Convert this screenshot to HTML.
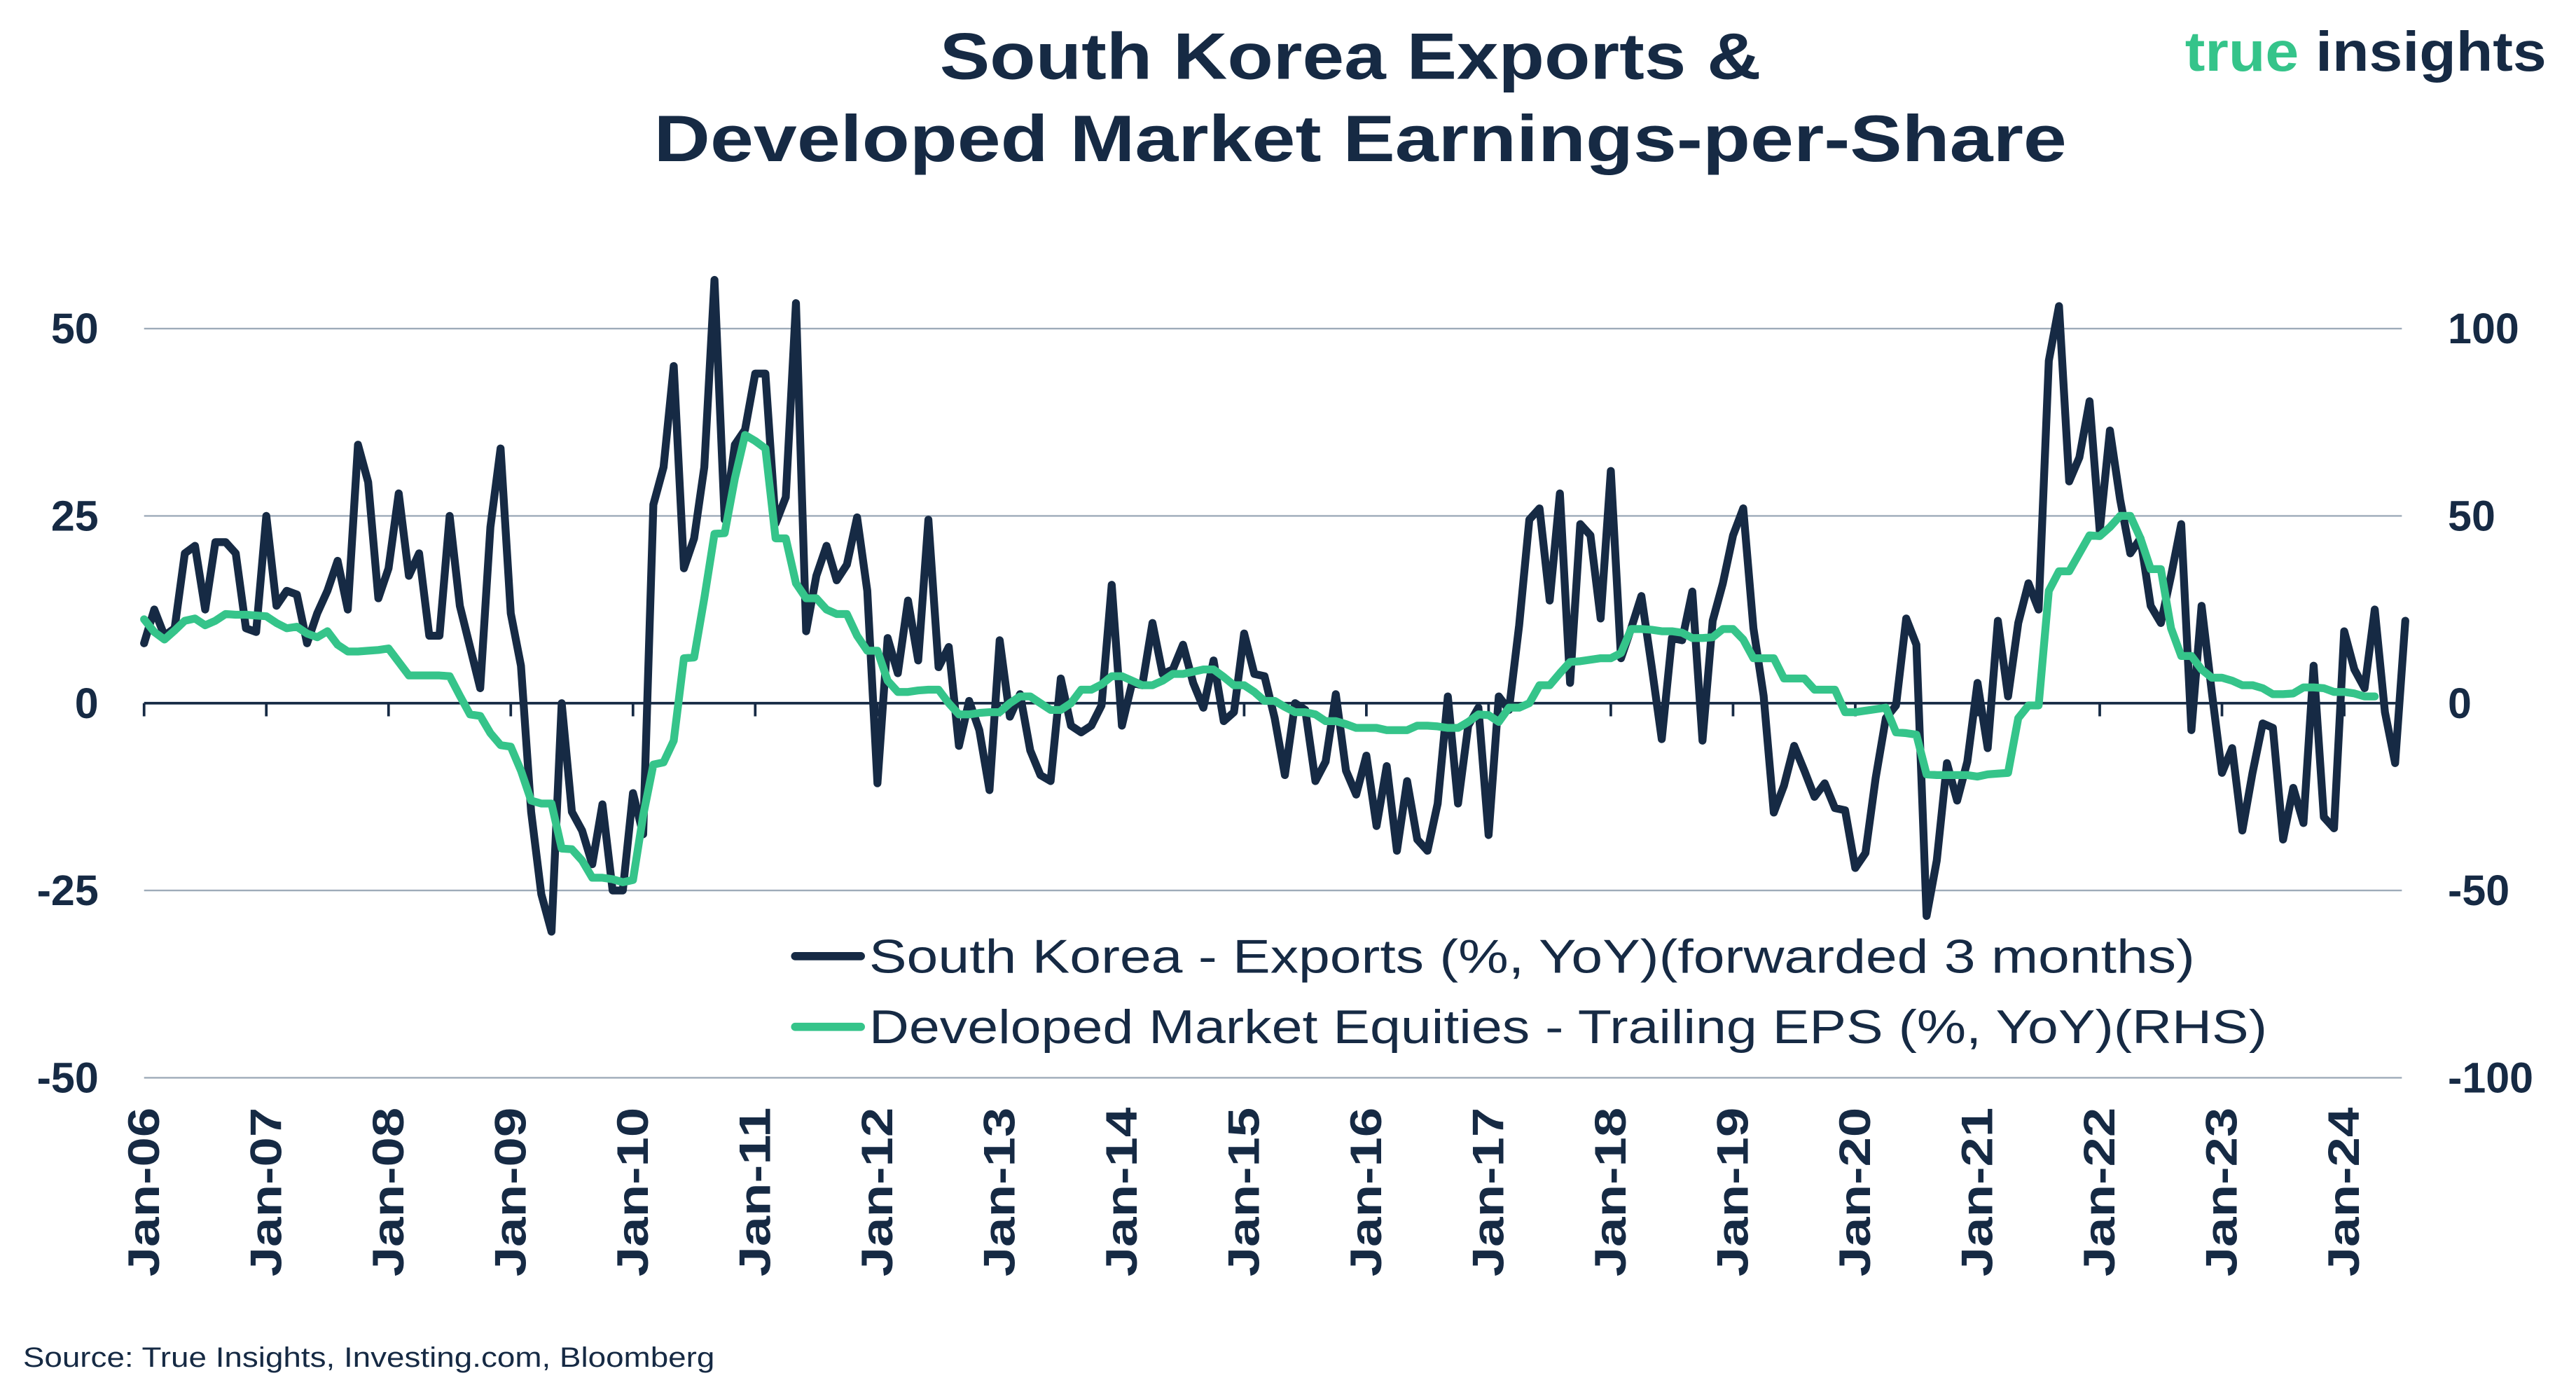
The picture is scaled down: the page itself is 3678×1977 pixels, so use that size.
<!DOCTYPE html>
<html>
<head>
<meta charset="utf-8">
<style>
  html,body{margin:0;padding:0;background:#fff;}
  svg{display:block;}
  text{font-family:"Liberation Sans",sans-serif;fill:#162a44;}
</style>
</head>
<body>
<svg id="chart" width="3678" height="1977" viewBox="0 0 1568 843" preserveAspectRatio="none" xmlns="http://www.w3.org/2000/svg">
  <rect x="0" y="0" width="1568" height="843" fill="#ffffff"/>
  <text x="822" y="48" text-anchor="middle" font-size="40" font-weight="bold" textLength="500" lengthAdjust="spacingAndGlyphs">South Korea Exports &amp;</text>
  <text x="828" y="98" text-anchor="middle" font-size="40" font-weight="bold" textLength="860" lengthAdjust="spacingAndGlyphs">Developed Market Earnings-per-Share</text>
  <text x="1330" y="43" font-size="34" font-weight="bold" textLength="220" lengthAdjust="spacingAndGlyphs"><tspan style="fill:#35c48a">true</tspan> insights</text>
  <g id="grid"></g>
  <g id="axes"></g>
  <g id="series"></g>
  <g id="legend">
    <line x1="484" y1="582" x2="524" y2="582" stroke="#162a44" stroke-width="5" stroke-linecap="round"/>
    <text x="529" y="592" font-size="29" textLength="807" lengthAdjust="spacingAndGlyphs">South Korea - Exports (%, YoY)(forwarded 3 months)</text>
    <line x1="484" y1="625" x2="524" y2="625" stroke="#35c48a" stroke-width="5" stroke-linecap="round"/>
    <text x="529" y="635" font-size="29" textLength="851" lengthAdjust="spacingAndGlyphs">Developed Market Equities - Trailing EPS (%, YoY)(RHS)</text>
  </g>
  <text x="14" y="832" font-size="17" textLength="421" lengthAdjust="spacingAndGlyphs">Source: True Insights, Investing.com, Bloomberg</text>
</svg>
<script>
const xTickLabels = ["Jan-06","Jan-07","Jan-08","Jan-09","Jan-10","Jan-11","Jan-12","Jan-13","Jan-14","Jan-15","Jan-16","Jan-17","Jan-18","Jan-19","Jan-20","Jan-21","Jan-22","Jan-23","Jan-24"];
const leftTicks = [50,25,0,-25,-50];
const rightTicks = [100,50,0,-50,-100];
const exportsYoY = [
  8,12.5,9,10,20,21,12.5,21.5,21.5,20,10,9.5,
  25,13,15,14.5,8,12,15,19,12.5,34.5,29.5,14,
  18,28,17,20,9,9,25,13,7.5,2,23.5,34,
  12,5,-14.5,-25.5,-30.5,0,-14.5,-17,-21.5,-13.5,-25,-25,
  -12,-17.5,26.5,31.5,45,18,22,31.5,56.5,24.5,34.5,36.5,
  44,44,24,27.5,53.4,9.6,17,21,16.4,18.5,24.8,15,
  -10.7,8.7,4,13.7,5.7,24.5,4.8,7.5,-5.7,0.3,-3.6,-11.6,
  8.4,-1.8,1.2,-6.3,-9.6,-10.4,3.3,-3,-3.9,-3,-0.3,15.8,
  -3,2.7,2.4,10.7,3.9,4.5,7.8,2.7,-0.6,5.7,-2.4,-1.2,
  9.3,3.9,3.6,-2,-9.6,0,-0.9,-10.4,-7.8,1.2,-9,-12.2,
  -7,-16.4,-8.4,-19.7,-10.4,-18.2,-19.7,-13.4,0.9,-13.4,-3,-0.6,
  -17.6,0.9,-0.9,10.4,24.5,26,13.7,28,2.7,23.9,22.4,11.3,
  31,6,10,14.3,5,-4.8,8.7,8.4,14.9,-5,11,16,
  22.4,26,10,1,-14.6,-11,-5.7,-9,-12.5,-10.7,-14,-14.3,
  -22,-20,-10,-2,-0.3,11.3,7.8,-28.4,-21,-8,-13,-7.8,
  2.7,-6,11,0.9,10.7,16,12.5,45.7,53,29.6,32.8,40.3,
  23,36.4,27.2,20,22,13,10.7,17,23.9,-3.6,13,1.5,
  -9.3,-6,-17,-9.3,-2.7,-3.3,-18.2,-11.3,-16,5,-15.2,-16.7,
  9.6,4.5,2,12.5,-1.2,-8,11
];
const epsYoY = [
  22.4,19,17,19.4,22,22.6,20.8,22,23.8,23.6,23.6,23.4,
  23.2,21.4,20,20.4,18.6,17.6,19.2,15.6,13.8,13.8,14,14.2,
  14.6,11,7.4,7.4,7.4,7.4,7.2,2,-3,-3.4,-8,-11.2,
  -11.6,-18,-26,-26.8,-26.8,-38.8,-39,-42,-46.6,-46.6,-47,-47.8,
  -47.2,-30,-16.4,-15.8,-10,12,12.2,28,45.2,45.4,60,71.6,
  70,68,44,44,32,28,28,25,23.8,23.8,18,14,
  14,6,3,3,3.4,3.6,3.6,0,-3,-3,-2.6,-2.4,
  -2.4,0,1.8,1.8,0,-1.8,-1.8,0,3.6,3.6,5,7.2,
  7.2,6,4.8,4.8,6,7.8,7.8,8.4,9,9,7,4.8,
  4.8,3,0.6,0.6,-1,-2.4,-2.4,-3,-4.8,-4.8,-5.6,-6.6,
  -6.6,-6.6,-7.2,-7.2,-7.2,-6,-6,-6.2,-6.6,-6.6,-5,-3,
  -3.2,-5,-1.2,-1.2,0,4.8,4.8,8,11,11.2,11.6,12,
  12,13.4,19.8,19.8,19.6,19.2,19.2,18.8,17.4,17.4,17.6,19.8,
  19.8,17,12,12,12,6.6,6.6,6.6,3.6,3.6,3.6,-2.4,
  -2.4,-2,-1.6,-1.2,-7.8,-8,-8.4,-19,-19.2,-19.2,-19.2,-19.2,
  -19.6,-19,-18.8,-18.6,-4,-0.6,-0.6,30,35.2,35.2,40,44.8,
  44.6,47,50,50,44,35.8,35.8,20,12.6,12.6,9,6.8,
  6.8,6,4.8,4.8,4,2.4,2.4,2.6,4.2,4.2,4,3,
  3,2.6,1.8,1.8
];

const NS = "http://www.w3.org/2000/svg";
const X0 = 87.7, PX_PER_MONTH = 6.2, Y0 = 428, LEFT_MAX = 50, RIGHT_MAX = 100, HALF_H = 228;
const xScale = m => X0 + PX_PER_MONTH * m;
const yLeft = v => Y0 - v / LEFT_MAX * HALF_H;
const yRight = v => Y0 - v / RIGHT_MAX * HALF_H;
const plotRight = 1462;

function mk(tag, attrs, parent) {
  const el = document.createElementNS(NS, tag);
  for (const k in attrs) el.setAttribute(k, attrs[k]);
  parent.appendChild(el);
  return el;
}
const grid = document.getElementById('grid');
const axes = document.getElementById('axes');
const series = document.getElementById('series');

leftTicks.forEach((v, i) => {
  const y = yLeft(v);
  if (v !== 0) {
    const g = mk('line', {x1: X0, x2: plotRight, y1: y, y2: y, stroke: '#9eabb9', 'stroke-width': 1}, grid);
    
    
  }
  const t = mk('text', {x: 60, y: y + 9, 'text-anchor': 'end', 'font-size': 26, 'font-weight': 'bold'}, axes);
  t.textContent = String(v);
  
  
});
rightTicks.forEach((v, i) => {
  const y = yRight(v);
  const t = mk('text', {x: 1490, y: y + 9, 'text-anchor': 'start', 'font-size': 26, 'font-weight': 'bold'}, axes);
  t.textContent = String(v);
  
  
});
const zl = mk('line', {x1: X0, x2: plotRight, y1: Y0, y2: Y0, stroke: '#162a44', 'stroke-width': 1.6}, axes);


xTickLabels.forEach((lab, i) => {
  const x = xScale(i * 12);
  const tk = mk('line', {x1: x, x2: x, y1: Y0, y2: Y0 + 8, stroke: '#162a44', 'stroke-width': 1.6}, axes);
  
  
  const t = mk('text', {x: 0, y: 0, 'text-anchor': 'end', 'font-size': 27, 'font-weight': 'bold', textLength: 103, lengthAdjust: 'spacingAndGlyphs', transform: `translate(${x + 9},${674}) rotate(-90)`}, axes);
  t.textContent = lab;
  
  
});

function linePath(vals, yf) {
  return vals.map((v, i) => (i ? 'L' : 'M') + xScale(i).toFixed(2) + ',' + yf(v).toFixed(2)).join(' ');
}
const pe = mk('path', {d: linePath(exportsYoY, yLeft), fill: 'none', stroke: '#162a44', 'stroke-width': 4.8, 'stroke-linejoin': 'round', 'stroke-linecap': 'round'}, series);


const pg = mk('path', {d: linePath(epsYoY, yRight), fill: 'none', stroke: '#35c48a', 'stroke-width': 4.8, 'stroke-linejoin': 'round', 'stroke-linecap': 'round'}, series);


document.getElementById('chart').appendChild(document.getElementById('legend'));
</script>
</body>
</html>
